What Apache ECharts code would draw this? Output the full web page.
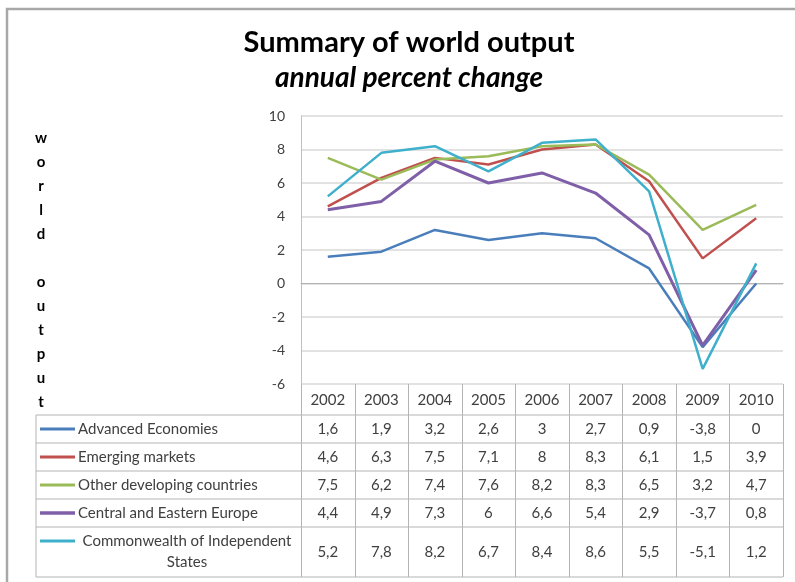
<!DOCTYPE html>
<html>
<head>
<meta charset="utf-8">
<script src="https://cdn.jsdelivr.net/npm/echarts@6/dist/echarts.min.js"></script>
<style>
  html, body { margin: 0; padding: 0; background: #fff; }
  #main { width: 795px; height: 582px; }
</style>
</head>
<body>
<div id="main"></div>
<script>
const years = ['2002', '2003', '2004', '2005', '2006', '2007', '2008', '2009', '2010']
const advanced = [1.6, 1.9, 3.2, 2.6, 3, 2.7, 0.9, -3.8, 0]
const emerging = [4.6, 6.3, 7.5, 7.1, 8, 8.3, 6.1, 1.5, 3.9]
const otherDev = [7.5, 6.2, 7.4, 7.6, 8.2, 8.3, 6.5, 3.2, 4.7]
const ceEurope = [4.4, 4.9, 7.3, 6, 6.6, 5.4, 2.9, -3.7, 0.8]
const cis = [5.2, 7.8, 8.2, 6.7, 8.4, 8.6, 5.5, -5.1, 1.2]
const names = ['Advanced Economies', 'Emerging markets', 'Other developing countries',
  'Central and Eastern Europe', 'Commonwealth of Independent States']

const seriesData = [advanced, emerging, otherDev, ceEurope, cis]
const colors = ['#4a7ebb', '#c0504d', '#9bbb59', '#7f5fa8', '#3fb0cc']
const widths = [2.5, 2.5, 2.5, 3, 2.5]
const font = 'Lato, "Open Sans", sans-serif'
const tableColor = '#b4b4b4'
const textColor = '#404040'

// table geometry (rows below the plot)
const tableLeft = 36, tableRight = 783, tableTop = 384
const rowLines = [415, 443, 471, 499, 527, 577]

let myChart = echarts.init(document.getElementById('main'))

let option = {
  animation: false,
  title: {
    text: 'Summary of world output',
    subtext: 'annual percent change',
    left: 404,
    textAlign: 'center',
    top: 23,
    itemGap: 7,
    textStyle: { fontFamily: font, fontSize: 29, fontWeight: 'bold', color: '#000' },
    subtextStyle: { fontFamily: font, fontSize: 28, fontWeight: 'bold', fontStyle: 'italic', color: '#000' }
  },
  grid: { left: 301, right: 12, top: 116, bottom: 198 },
  xAxis: {
    type: 'category',
    boundaryGap: true,
    data: years,
    axisLine: { lineStyle: { color: tableColor } },
    axisTick: { show: false },
    splitLine: { show: false },
    axisLabel: { margin: 9, fontSize: 15, color: textColor, fontFamily: font }
  },
  yAxis: {
    type: 'value',
    min: -6,
    max: 10,
    interval: 2,
    axisLine: { show: true, lineStyle: { color: '#bfbfbf' } },
    axisTick: { show: false },
    axisLabel: { margin: 16, fontSize: 14, color: textColor, fontFamily: font },
    splitLine: { lineStyle: { color: '#d9d9d9', width: 1.5 } }
  },
  series: seriesData.map((d, i) => ({
    name: names[i],
    type: 'line',
    data: d,
    symbol: 'none',
    lineStyle: { color: colors[i], width: widths[i] },
    itemStyle: { color: colors[i] }
  }))
}
myChart.setOption(option)

// build the data table under the plot
const fmt = v => String(v).replace('.', ',')
const bottom = rowLines[rowLines.length - 1]
let graphic = []
// outer frame
graphic.push({
  type: 'polyline',
  shape: { points: [[7, 582], [7, 9], [795, 9]] },
  style: { stroke: '#a8a8a8', lineWidth: 2.5, fill: null }
})
// vertical axis title, one letter per line
graphic.push({
  type: 'text',
  x: 41,
  y: 126,
  style: {
    text: 'w\no\nr\nl\nd\n\no\nu\nt\np\nu\nt',
    fontFamily: font, fontSize: 15, fontWeight: 'bold', fill: '#000',
    align: 'center', verticalAlign: 'top', lineHeight: 24
  }
})
rowLines.forEach(y => {
  graphic.push({
    type: 'line',
    shape: { x1: tableLeft, y1: y, x2: tableRight, y2: y },
    style: { stroke: tableColor, lineWidth: 1 }
  })
})
graphic.push({
  type: 'line',
  shape: { x1: tableLeft, y1: rowLines[0], x2: tableLeft, y2: bottom },
  style: { stroke: tableColor, lineWidth: 1 }
})
// column dividers at the category band edges
const x0 = myChart.convertToPixel({ xAxisIndex: 0 }, years[0])
const x1 = myChart.convertToPixel({ xAxisIndex: 0 }, years[1])
const band = x1 - x0
for (let j = 0; j <= years.length; j++) {
  const x = Math.round(x0 - band / 2 + j * band) + 0.5
  graphic.push({
    type: 'line',
    shape: { x1: x, y1: tableTop, x2: x, y2: bottom },
    style: { stroke: tableColor, lineWidth: 1 }
  })
}
for (let i = 0; i < names.length; i++) {
  const yc = (rowLines[i] + rowLines[i + 1]) / 2
  const last = i === names.length - 1
  const keyY = last ? yc - 11 : yc
  graphic.push({
    type: 'line',
    shape: { x1: 40, y1: keyY, x2: 75, y2: keyY },
    style: { stroke: colors[i], lineWidth: widths[i] + 0.5 }
  })
  graphic.push({
    type: 'text',
    x: last ? 187 : 78,
    y: yc,
    style: {
      text: last ? 'Commonwealth of Independent\nStates' : names[i],
      fontFamily: font, fontSize: 15, fill: textColor,
      align: last ? 'center' : 'left', verticalAlign: 'middle', lineHeight: 21
    }
  })
  seriesData[i].forEach((v, j) => {
    const x = myChart.convertToPixel({ xAxisIndex: 0 }, years[j])
    graphic.push({
      type: 'text',
      x: x,
      y: yc,
      style: { text: fmt(v), fontFamily: font, fontSize: 15, fill: textColor, align: 'center', verticalAlign: 'middle' }
    })
  })
}
myChart.setOption({ graphic: graphic })
</script>
</body>
</html>
